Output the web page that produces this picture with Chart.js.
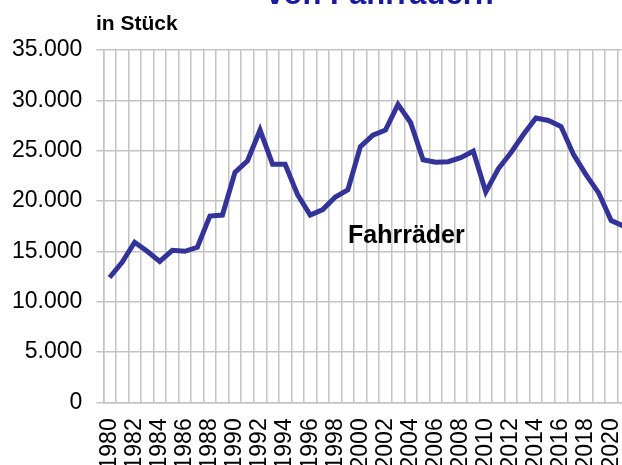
<!DOCTYPE html>
<html>
<head>
<meta charset="utf-8">
<script src="https://cdn.jsdelivr.net/npm/chart.js@4.4.1/dist/chart.umd.min.js"></script>
<style>
  html, body { margin: 0; padding: 0; background: #fff; }
  #wrap { position: relative; width: 622px; height: 465px; overflow: hidden; background: #fff; }
  #c { position: absolute; left: 0; top: 0; }
</style>
</head>
<body>
<div id="wrap"><canvas id="c" width="640" height="480" style="width:640px;height:480px"></canvas></div>
<script>
const years = [1980,1981,1982,1983,1984,1985,1986,1987,1988,1989,1990,1991,1992,1993,1994,1995,1996,1997,1998,1999,2000,2001,2002,2003,2004,2005,2006,2007,2008,2009,2010,2011,2012,2013,2014,2015,2016,2017,2018,2019,2020,2021];
const fahrraeder = [12400,13900,15900,15000,14000,15100,15000,15400,18500,18600,22850,24000,27050,23650,23650,20600,18600,19150,20400,21100,25400,26550,27050,29600,27800,24100,23850,23900,24300,24950,20900,23200,24800,26600,28250,28000,27400,24600,22600,20800,18050,17500];
const yTicks = [0,5000,10000,15000,20000,25000,30000,35000];
const titleText = 'von Fahrrädern';
const unitText = 'in Stück';
const seriesLabel = 'Fahrräder';

const FONT = '"Liberation Sans", Arial, Helvetica, sans-serif';
const GRID = '#c4c4c4';

const textPlugin = {
  id: 'texts',
  afterDraw(chart) {
    const ctx = chart.ctx;
    ctx.save();
    ctx.textBaseline = 'alphabetic';
    ctx.textAlign = 'center';
    ctx.fillStyle = '#1a1aa0';
    ctx.font = 'bold 31px ' + FONT;
    ctx.fillText(titleText, 380, 4);
    ctx.textAlign = 'left';
    ctx.fillStyle = '#000';
    ctx.font = 'bold 21px ' + FONT;
    ctx.fillText(unitText, 96, 30);
    ctx.font = 'bold 25px ' + FONT;
    ctx.fillText(seriesLabel, 348, 243);
    ctx.restore();
  }
};

new Chart(document.getElementById('c'), {
  type: 'line',
  data: {
    labels: years.map(String),
    datasets: [{
      label: seriesLabel,
      data: fahrraeder,
      borderColor: '#333399',
      borderWidth: 5,
      pointRadius: 0,
      tension: 0,
      fill: false
    }]
  },
  options: {
    responsive: false,
    devicePixelRatio: 1,
    animation: false,
    layout: { padding: { top: 50, right: 10, left: 0, bottom: 0 } },
    plugins: { legend: { display: false }, tooltip: { enabled: false }, title: { display: false } },
    scales: {
      x: {
        type: 'category',
        offset: true,
        grid: { offset: true, color: GRID, lineWidth: 1.5, drawTicks: false },
        border: { display: true, color: GRID, width: 1.5 },
        ticks: {
          autoSkip: false,
          maxRotation: 90,
          minRotation: 90,
          padding: 16,
          color: '#000',
          font: { family: FONT, size: 23 },
          callback: function(v, i) { const y = years[i]; return (y % 2 === 0) ? String(y) : ''; }
        },
        afterFit(scale) { scale.height = 480 - 402.3; scale.paddingLeft = 0; scale.paddingRight = 0; }
      },
      y: {
        min: 0,
        max: 35000,
        afterBuildTicks(scale) { scale.ticks = yTicks.map(v => ({ value: v })); },
        grid: { color: GRID, lineWidth: 1.5, tickLength: 7 },
        border: { display: true, color: GRID, width: 1.5 },
        ticks: {
          padding: 14,
          color: '#000',
          font: { family: FONT, size: 23 },
          callback: v => v.toLocaleString('de-DE')
        },
        afterFit(scale) { scale.width = 103.3; scale.paddingTop = 0; scale.paddingBottom = 0; }
      }
    }
  },
  plugins: [textPlugin]
});
</script>
</body>
</html>
